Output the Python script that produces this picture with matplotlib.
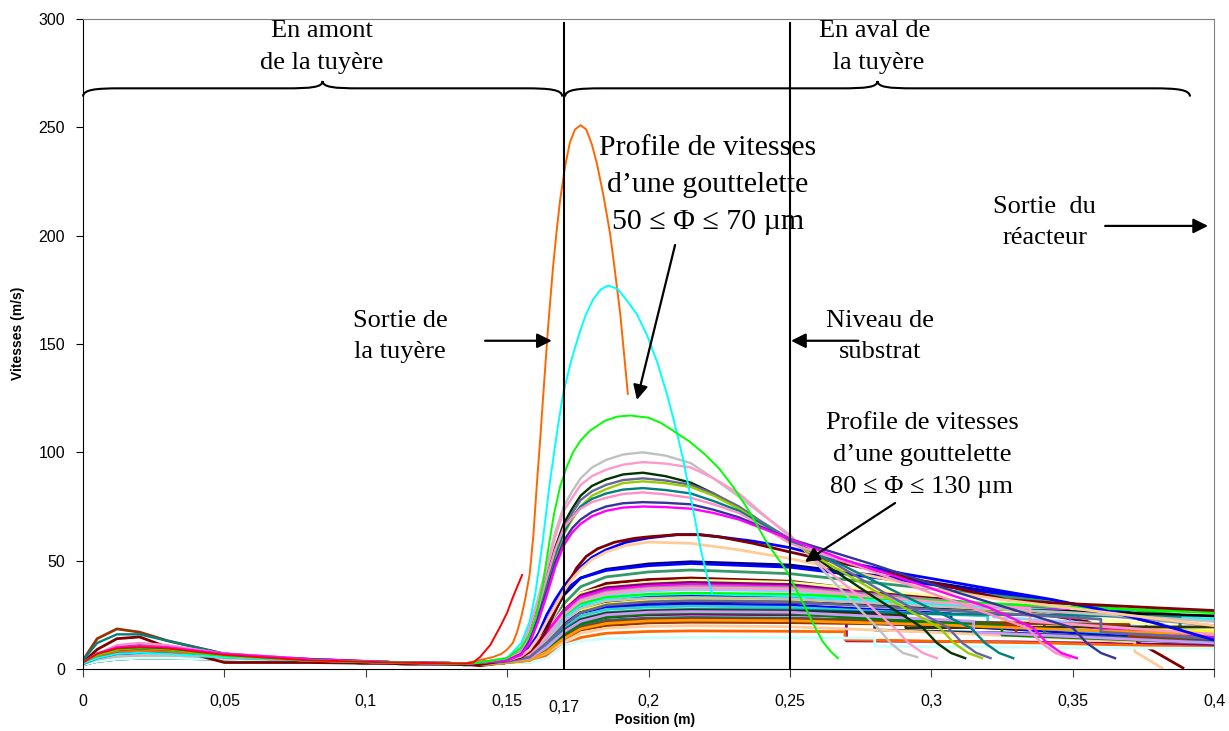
import matplotlib

matplotlib.use("Agg")
import matplotlib.pyplot as plt
from matplotlib.path import Path
from matplotlib.patches import PathPatch
from matplotlib.transforms import blended_transform_factory

# ---- data: position (m) -> droplet speed (m/s) ----
UP_X = [0, 0.005, 0.012, 0.02, 0.03, 0.05, 0.08, 0.11, 0.135]

# small droplets (fast, decelerate quickly)
FAST_PROFILES = [
    ("#FF6600", [3, 6, 8, 8.5, 8, 6, 4, 3, 2.5],
     [(0.14, 4), (0.145, 5.5), (0.148, 7), (0.15, 9), (0.152, 12), (0.1535, 17), (0.155, 24),
      (0.1565, 33), (0.158, 44), (0.1593, 62), (0.1605, 85), (0.1617, 106), (0.1627, 125),
      (0.1645, 158), (0.1662, 185), (0.1675, 202), (0.1687, 216), (0.1705, 232), (0.1722, 243),
      (0.174, 249), (0.176, 251), (0.178, 249), (0.18, 242), (0.1818, 233), (0.184, 219),
      (0.1864, 201), (0.188, 185), (0.19, 164), (0.1927, 127)]),
    ("#00FFFF", [2.5, 5, 7, 7.5, 7, 5.5, 4, 3, 2.5],
     [(0.14, 3), (0.15, 5), (0.155, 12), (0.158, 22), (0.16, 35), (0.1625, 58), (0.165, 85),
      (0.1675, 108), (0.1698, 127), (0.1728, 143), (0.1758, 156), (0.178, 164), (0.1804, 170.5),
      (0.183, 175), (0.1857, 177), (0.189, 175.5), (0.1924, 170), (0.196, 163.5), (0.1995, 154),
      (0.203, 142), (0.2065, 127), (0.2095, 112), (0.2122, 97), (0.2157, 74), (0.2185, 55),
      (0.2207, 43), (0.2225, 35)]),
    ("#00FF00", [3, 6.5, 9, 9.5, 9, 6, 4, 3, 2.5],
     [(0.14, 3), (0.15, 5), (0.155, 10), (0.158, 16), (0.16, 23), (0.1625, 38), (0.1645, 55),
      (0.1665, 71), (0.1687, 84), (0.171, 93), (0.1733, 100), (0.176, 105.5), (0.1793, 110),
      (0.1845, 114.5), (0.189, 116.5), (0.1935, 117), (0.2, 116), (0.2045, 113.5), (0.2087, 110),
      (0.2145, 105), (0.22, 99), (0.225, 92.5), (0.23, 84), (0.236, 72), (0.242, 58), (0.249, 45),
      (0.2525, 36), (0.256, 27), (0.259, 19), (0.2617, 12.5), (0.2645, 8), (0.267, 5)]),
    ("#FF0000", [3, 7, 9.5, 10, 9.5, 6.5, 4, 3, 2.5],
     [(0.138, 3), (0.1404, 5.5), (0.144, 11), (0.1475, 19.4), (0.15, 26),
      (0.152, 33), (0.1553, 43.4)]),
]

# medium droplets, peak 75-100 m/s, stopping between 0.29 and 0.37 m
MID_X = [0.14, 0.15, 0.155, 0.158, 0.161, 0.164, 0.167, 0.17, 0.173, 0.176, 0.18, 0.185,
         0.191, 0.198, 0.206, 0.215, 0.223, 0.232, 0.24, 0.25]
MID_PROFILES = [
    ("#C0C0C0", [2.5, 4.5, 6, 6.5, 6.5, 5.5, 4, 3, 2.5],
     [3, 5, 10, 20, 33, 48, 63, 75, 82, 88, 93, 96.5, 99, 100, 98.5, 95, 88, 79.5, 71.5, 62],
     [(0.26, 48), (0.27, 34), (0.281, 19), (0.286, 11.5), (0.29, 7.4), (0.295, 5.5)]),
    ("#FF99CC", [3, 6, 8.5, 9, 8.5, 6, 4, 3, 2.5],
     [3, 5, 9.5, 19, 31, 46, 61, 73, 79, 85, 89, 92, 94.3, 95.5, 94.8, 93, 88, 81, 72, 61],
     [(0.262, 47), (0.275, 33), (0.287, 19), (0.292, 12), (0.297, 7.4), (0.302, 5)]),
    ("#003300", [3, 6, 8, 9, 9, 6.5, 4, 3, 2.5],
     [3, 4.5, 8, 16, 28, 42, 56, 67, 74, 80, 84.5, 87.5, 89.8, 90.6, 89, 86, 81, 74, 67, 60],
     [(0.265, 46), (0.28, 33), (0.297, 19), (0.302, 12), (0.307, 7.4), (0.312, 5)]),
    ("#666699", [3, 7, 10, 11, 10, 6.5, 4, 3, 2.5],
     [3, 4.5, 8, 15, 27, 40, 54, 65, 72, 78, 82, 85, 87.2, 88, 87, 85, 81, 75, 68, 60],
     [(0.268, 47), (0.285, 34), (0.306, 19), (0.311, 12), (0.316, 7.4), (0.321, 5)]),
    ("#99CC00", [3, 6, 9, 10.5, 10, 7, 4, 3, 2.5],
     [3, 4, 7.5, 14, 25, 38, 51, 62, 69, 75, 80, 83, 85.8, 86.6, 85.8, 84, 80, 74, 67, 59],
     [(0.267, 46), (0.284, 33), (0.303, 19), (0.308, 12), (0.313, 7.4), (0.318, 5)]),
    ("#008080", [4, 12, 16, 16, 13, 7, 4, 3, 2.5],
     [3, 4, 7.5, 15, 27, 40, 53, 63, 70, 75, 78.5, 81, 82.8, 83.5, 82.6, 81, 77.5, 73, 67, 59],
     [(0.27, 47), (0.29, 34), (0.314, 19), (0.319, 12), (0.324, 7.4), (0.329, 5)]),
    ("#FF8FC8", [3, 7, 11, 12, 11, 7, 4, 3, 2.5],
     [3, 4.5, 8, 16, 28, 42, 55, 65, 70, 74, 77, 79, 80.8, 81.5, 80.6, 79, 76, 72, 66, 58],
     [(0.275, 47), (0.3, 35), (0.334, 19), (0.339, 12), (0.344, 7.4), (0.349, 5)]),
    ("#333399", [2.5, 5, 7, 7.5, 7.5, 6, 4, 3, 2.5],
     [3, 4, 7, 13, 24, 36, 49, 59, 65, 69, 72.5, 75, 76.5, 77, 76.7, 76, 73.5, 70, 65.5, 60],
     [(0.28, 48), (0.31, 35), (0.35, 19), (0.355, 12), (0.36, 7.4), (0.365, 5)]),
    ("#FF00FF", [3, 7, 10, 10.5, 10, 7, 4.5, 3, 2.5],
     [3, 4, 6.5, 12, 22, 34, 47, 57, 63, 67, 70.5, 73, 74.5, 75, 74.7, 74, 72, 69, 65, 60],
     [(0.268, 51), (0.288, 42.5), (0.305, 35), (0.32, 28.6), (0.336, 19), (0.341, 12),
      (0.346, 7.4), (0.3515, 5)]),
]

# large droplets, peak 45-62 m/s, reaching the reactor outlet
SLOW_PROFILES = [
    ("#0000FF", [2.5, 5, 6.5, 7, 7, 6, 4.5, 3, 2.5],
     [(0.14, 3), (0.15, 4), (0.155, 6.5), (0.158, 10), (0.161, 16), (0.164, 25), (0.167, 32),
      (0.17, 38), (0.173, 43), (0.176, 47), (0.18, 51.5), (0.185, 55), (0.192, 58.5), (0.2, 60.5),
      (0.21, 62), (0.218, 62), (0.225, 61), (0.237, 59), (0.25, 56), (0.262, 52), (0.275, 48),
      (0.29, 44), (0.3077, 40), (0.325, 36), (0.343, 32), (0.36, 27.5), (0.375, 22.6),
      (0.388, 18), (0.4, 13.4)]),
    ("#800000", [3, 9, 14, 14.8, 10, 3, 3, 2.5, 2],
     [(0.14, 2), (0.15, 4), (0.155, 5.5), (0.158, 8), (0.161, 12), (0.164, 18), (0.1675, 28),
      (0.171, 38), (0.1745, 46.5), (0.178, 52), (0.182, 55.5), (0.188, 58.5), (0.195, 60.3),
      (0.2, 61), (0.21, 62), (0.218, 62), (0.225, 61), (0.237, 58), (0.25, 54), (0.262, 50.5),
      (0.275, 47), (0.2995, 40), (0.3267, 32), (0.343, 30.5), (0.36, 29.5), (0.38, 28.2),
      (0.4, 27)]),
    ("#FFCC99", [2.5, 5, 7, 8, 8, 6, 4, 3, 2.5],
     [(0.14, 3), (0.15, 4), (0.155, 6), (0.158, 9), (0.161, 14.5), (0.164, 22), (0.167, 29),
      (0.17, 36), (0.173, 41.5), (0.176, 46), (0.18, 50.5), (0.185, 54), (0.192, 57), (0.2, 58.6),
      (0.215, 58), (0.232, 55), (0.25, 51), (0.275, 44), (0.3, 37), (0.325, 32), (0.35, 28),
      (0.375, 24), (0.4, 20)]),
]

# remaining droplets, plateau 15-50 m/s (some with sudden drops)
PLATEAU_PROFILES = [
    ("#000080", [2.5, 4.5, 6, 6.5, 6.5, 5.5, 4, 3, 2.5],
     [(0.14, 2.5), (0.15, 3.5), (0.158, 9), (0.164, 20), (0.17, 34), (0.176, 42), (0.185, 46),
      (0.2, 48.5), (0.215, 49.5), (0.25, 48), (0.3, 40), (0.35, 30), (0.38, 21), (0.4, 14)]),
    ("#0000FF", [3, 6, 8, 9, 8.5, 6, 4, 3, 2.5],
     [(0.14, 2.5), (0.15, 3.5), (0.158, 10), (0.164, 22), (0.17, 36), (0.176, 42), (0.185, 45.5),
      (0.2, 47.7), (0.215, 48.7), (0.25, 47), (0.3, 39), (0.35, 30), (0.376, 25), (0.376, 19),
      (0.4, 15)]),
    ("#339966", [3, 5.5, 7.5, 8, 8, 6, 4, 3, 2.5],
     [(0.14, 2.5), (0.15, 3.5), (0.158, 7), (0.164, 16), (0.17, 30), (0.176, 38), (0.185, 42.5),
      (0.2, 44.8), (0.215, 45.7), (0.25, 44), (0.3, 37), (0.35, 30), (0.388, 25), (0.388, 14),
      (0.4, 13.5)]),
    ("#800000", [2.5, 5, 6.5, 7, 7, 5.5, 4, 3, 2.5],
     [(0.14, 1.5), (0.15, 3), (0.158, 5), (0.164, 12), (0.17, 26), (0.176, 35), (0.185, 39.5),
      (0.2, 41.3), (0.215, 42), (0.25, 40.5), (0.3, 33), (0.355, 22), (0.375, 11), (0.389, 0.5)]),
    ("#FFFF99", [3, 7, 10, 11, 10.5, 7, 4, 3, 2.5],
     [(0.14, 2.5), (0.15, 3.5), (0.158, 8), (0.164, 17), (0.17, 28), (0.176, 35), (0.185, 38),
      (0.2, 40), (0.215, 41), (0.25, 40), (0.3, 34), (0.307, 33.5), (0.307, 28), (0.35, 24),
      (0.4, 18)]),
    ("#800080", [3, 6, 8, 9, 9, 6.5, 4, 3, 2.5],
     [(0.14, 2.5), (0.15, 3.5), (0.158, 7), (0.164, 16), (0.17, 27), (0.176, 34), (0.185, 37.5),
      (0.2, 39.2), (0.215, 40), (0.25, 39), (0.3, 32), (0.352, 25), (0.352, 20), (0.4, 13)]),
    ("#FF00FF", [3, 6.5, 9.5, 10, 9.5, 7, 4.5, 3, 2.5],
     [(0.14, 2.5), (0.15, 3.5), (0.158, 8), (0.164, 17), (0.17, 27), (0.176, 33), (0.185, 36.5),
      (0.2, 38.2), (0.215, 39), (0.25, 38), (0.3, 32), (0.349, 27), (0.349, 20), (0.4, 15)]),
    ("#969696", [2.5, 4.5, 6, 6.5, 6.5, 5, 4, 3, 2.5],
     [(0.14, 2.5), (0.15, 3.5), (0.158, 6), (0.164, 14), (0.17, 25), (0.176, 32), (0.185, 35.5),
      (0.2, 37.4), (0.215, 38.2), (0.25, 37.5), (0.3, 32), (0.35, 26), (0.4, 20)]),
    ("#99CCFF", [2.5, 5, 7, 7.5, 7.5, 5.5, 4, 3, 2.5],
     [(0.14, 2.5), (0.15, 3.5), (0.158, 6), (0.164, 13), (0.17, 24), (0.176, 30), (0.185, 34),
      (0.2, 36), (0.215, 36.7), (0.25, 36), (0.3, 31), (0.322, 29), (0.322, 24), (0.37, 20),
      (0.4, 17)]),
    ("#00FF00", [2.5, 5, 6.5, 7, 7, 5.5, 4, 3, 2.5],
     [(0.14, 2.5), (0.15, 3.5), (0.158, 7), (0.164, 15), (0.17, 24), (0.176, 30), (0.185, 33),
      (0.2, 34.5), (0.215, 35), (0.25, 34.5), (0.3, 31.5), (0.35, 28.5), (0.4, 26)]),
    ("#00FFFF", [2.5, 4.5, 6, 6.5, 6.5, 5.5, 4, 3, 2.5],
     [(0.14, 2.5), (0.15, 3.5), (0.158, 6), (0.164, 14), (0.17, 23), (0.176, 29), (0.185, 32),
      (0.2, 33.5), (0.215, 34), (0.25, 33.5), (0.3, 30), (0.35, 26.5), (0.4, 23)]),
    ("#000080", [2, 4, 5, 5.5, 5.5, 5, 3.5, 2.5, 2],
     [(0.14, 2), (0.15, 3), (0.158, 5), (0.164, 11), (0.17, 21), (0.176, 28), (0.185, 31),
      (0.2, 33), (0.215, 33.5), (0.25, 32.5), (0.279, 30), (0.279, 21), (0.32, 19), (0.37, 16),
      (0.4, 14)]),
    ("#FFFF00", [3, 6.5, 9, 10, 9.5, 6.5, 4, 3, 2.5],
     [(0.14, 2.5), (0.15, 3.5), (0.158, 6), (0.164, 12), (0.17, 21), (0.176, 27), (0.185, 30),
      (0.2, 31.5), (0.215, 32), (0.25, 31.5), (0.3, 28.5), (0.325, 27), (0.325, 22), (0.4, 17)]),
    ("#000000", [2.5, 4.5, 5.5, 6, 6, 5, 4, 3, 2.5],
     [(0.14, 2.5), (0.15, 3.5), (0.158, 5), (0.164, 11), (0.17, 20), (0.176, 26), (0.185, 29),
      (0.2, 30.7), (0.215, 31.2), (0.25, 30.8), (0.3, 28.5), (0.35, 26.5), (0.4, 24.5)]),
    ("#0000FF", [2, 4, 5, 5.5, 5.5, 5, 3.5, 2.5, 2],
     [(0.14, 2.5), (0.15, 3.5), (0.158, 6), (0.164, 13), (0.17, 21), (0.176, 26), (0.185, 28.5),
      (0.2, 29.6), (0.215, 30), (0.25, 29.5), (0.3, 26), (0.307, 25.5), (0.307, 20), (0.36, 16),
      (0.4, 13)]),
    ("#33CCCC", [2.5, 4.5, 6, 6.5, 6.5, 5.5, 4, 3, 2.5],
     [(0.14, 2.5), (0.15, 3.5), (0.158, 5), (0.164, 11), (0.17, 19), (0.176, 24.5), (0.185, 27.5),
      (0.2, 28.6), (0.215, 29), (0.25, 28.5), (0.3, 25.5), (0.32, 24.5), (0.32, 20), (0.4, 14)]),
    ("#008080", [2, 4, 5.5, 6, 6, 5, 3.5, 2.5, 2],
     [(0.14, 2), (0.15, 3), (0.158, 5), (0.164, 10), (0.17, 18), (0.176, 23), (0.185, 26),
      (0.2, 27.1), (0.215, 27.5), (0.25, 27.3), (0.3, 25.5), (0.35, 24.8), (0.388, 24),
      (0.388, 14), (0.4, 13)]),
    ("#003366", [2, 3.5, 4.5, 5, 5, 4.5, 3.5, 2.5, 2],
     [(0.14, 2), (0.15, 3), (0.158, 4.5), (0.164, 9), (0.17, 17), (0.176, 22.5), (0.185, 25.5),
      (0.2, 26.6), (0.215, 27), (0.25, 26.7), (0.28, 26), (0.28, 18), (0.33, 16.5), (0.4, 13)]),
    ("#800080", [2.5, 4.5, 6, 6.5, 6, 5, 3.5, 2.5, 2],
     [(0.14, 2), (0.15, 3), (0.158, 4), (0.164, 9), (0.17, 16), (0.176, 21), (0.185, 23.8),
      (0.2, 25), (0.215, 25.3), (0.25, 25), (0.27, 24.5), (0.27, 13), (0.33, 12.5), (0.4, 11)]),
    ("#336666", [2, 3.5, 4.5, 5, 5, 4.5, 3.5, 2.5, 2],
     [(0.14, 2), (0.15, 3), (0.158, 4), (0.164, 8), (0.17, 15), (0.176, 20), (0.185, 22.5),
      (0.2, 23.5), (0.215, 23.8), (0.25, 23.5), (0.3, 22), (0.34, 21), (0.34, 16), (0.4, 12.5)]),
    ("#993300", [2.5, 5, 6.5, 7, 7, 5.5, 4, 3, 2.5],
     [(0.14, 2), (0.15, 3), (0.158, 4), (0.164, 8), (0.17, 14.5), (0.176, 19), (0.185, 21.5),
      (0.2, 22.7), (0.215, 23), (0.25, 22.8), (0.3, 21.5), (0.37, 20.5), (0.37, 15), (0.4, 14)]),
    ("#333300", [2, 4, 5, 5.5, 5.5, 4.5, 3.5, 2.5, 2],
     [(0.14, 2), (0.15, 3), (0.158, 4.5), (0.164, 9), (0.17, 17), (0.176, 22.5), (0.185, 25.5),
      (0.2, 26.6), (0.215, 27), (0.25, 26.5), (0.291, 24.6), (0.291, 19), (0.35, 19.4),
      (0.4, 19.4)]),
    ("#993300", [4, 14, 18.5, 17, 13, 7, 4, 3, 2.5],
     [(0.14, 2), (0.15, 3), (0.158, 3.5), (0.164, 7), (0.17, 13.5), (0.176, 18), (0.185, 20),
      (0.2, 21.3), (0.215, 21.6), (0.25, 21.4), (0.3, 20.5), (0.33, 20), (0.33, 15.5), (0.4, 12)]),
    ("#FFCC99", [2, 4, 5, 5.5, 5.5, 5, 3.5, 2.5, 2],
     [(0.14, 2), (0.15, 3), (0.158, 3.5), (0.164, 7), (0.17, 12.5), (0.176, 16.5), (0.185, 18.8),
      (0.2, 19.7), (0.215, 20), (0.25, 19.5), (0.3, 17), (0.35, 14), (0.372, 12.5), (0.372, 8),
      (0.3816, 0.5)]),
    ("#FF6600", [2.5, 4.5, 6, 6.5, 6.5, 5.5, 4, 3, 2.5],
     [(0.14, 2), (0.15, 3), (0.158, 3), (0.164, 6), (0.17, 11), (0.176, 14.5), (0.185, 16.5),
      (0.2, 17.3), (0.215, 17.6), (0.25, 17.4), (0.2695, 17.2), (0.2695, 13.5), (0.34, 12),
      (0.4, 10)]),
    ("#CCFFFF", [2, 3.5, 4.5, 5, 5, 4.5, 3.5, 2.5, 2],
     [(0.14, 2), (0.15, 3), (0.158, 3), (0.164, 5), (0.17, 11), (0.176, 13), (0.185, 14),
      (0.2, 14.4), (0.215, 14.6), (0.25, 14.5), (0.28, 14.2), (0.28, 10.5), (0.4, 9.5)]),
    ("#008000", [2.5, 5, 6.5, 7, 7, 5.5, 4, 3, 2.5],
     [(0.14, 2), (0.15, 3), (0.158, 4), (0.164, 9), (0.17, 16), (0.176, 21), (0.185, 24),
      (0.2, 25.5), (0.215, 26), (0.25, 25.6), (0.3, 21.5), (0.325, 20.3), (0.325, 15.7),
      (0.4, 12)]),
    ("#FF9900", [2.5, 5.5, 7.5, 8, 8, 6, 4, 3, 2.5],
     [(0.14, 2), (0.15, 3), (0.158, 4), (0.164, 8), (0.17, 14), (0.176, 18.5), (0.185, 21),
      (0.2, 22.2), (0.215, 22.5), (0.25, 22.3), (0.3, 20.5), (0.35, 18), (0.4, 16)]),
    ("#CC99FF", [3, 5.5, 7.5, 8.5, 8.5, 6.5, 4, 3, 2.5],
     [(0.14, 2.5), (0.15, 3.5), (0.158, 5), (0.164, 10), (0.17, 17), (0.176, 22), (0.185, 25),
      (0.2, 26.2), (0.215, 26.5), (0.25, 26.2), (0.3, 23), (0.315, 22), (0.315, 17), (0.4, 12)]),
    ("#C0C0C0", [2.5, 4.5, 6, 6.5, 6.5, 5, 4, 3, 2.5],
     [(0.14, 2.5), (0.15, 3.5), (0.158, 6), (0.164, 13), (0.17, 22), (0.176, 28), (0.185, 31.5),
      (0.2, 32.7), (0.215, 33), (0.25, 32.5), (0.3, 29), (0.35, 26), (0.4, 22)]),
    ("#FF99CC", [3, 7, 10, 11, 10.5, 7, 4.5, 3, 2.5],
     [(0.14, 2.5), (0.15, 3.5), (0.158, 7), (0.164, 15), (0.17, 25), (0.176, 31.5), (0.185, 35),
      (0.2, 37), (0.215, 37.5), (0.25, 37), (0.3, 31), (0.335, 28), (0.335, 22), (0.4, 16)]),
    ("#666699", [2.5, 5, 6.5, 7, 7, 5.5, 4, 3, 2.5],
     [(0.14, 2.5), (0.15, 3.5), (0.158, 5.5), (0.164, 12), (0.17, 20), (0.176, 26), (0.185, 29.5),
      (0.2, 31), (0.215, 31.5), (0.25, 31), (0.3, 27.5), (0.36, 23), (0.36, 17), (0.4, 14)]),
]

X_TICKS = [0, 0.05, 0.1, 0.15, 0.2, 0.25, 0.3, 0.35, 0.4]
X_TICK_LABELS = ["0", "0,05", "0,1", "0,15", "0,2", "0,25", "0,3", "0,35", "0,4"]
Y_TICKS = [0, 50, 100, 150, 200, 250, 300]
NOZZLE_EXIT = 0.17
SUBSTRATE = 0.25

SERIF = "Liberation Serif"
SANS = "Liberation Sans"


def draw_brace(ax, x0, x1, y, tip=3.8, cusp=3.4, r=0.013):
    xc = (x0 + x1) / 2
    verts = [
        (x0, y - tip), (x0, y - tip * 0.15), (x0 + r * 0.35, y), (x0 + r, y),
        (xc - r, y),
        (xc - r * 0.3, y), (xc, y + cusp * 0.15), (xc, y + cusp),
        (xc, y + cusp * 0.15), (xc + r * 0.3, y), (xc + r, y),
        (x1 - r, y),
        (x1 - r * 0.35, y), (x1, y - tip * 0.15), (x1, y - tip),
    ]
    codes = ([Path.MOVETO] + [Path.CURVE4] * 3 + [Path.LINETO] + [Path.CURVE4] * 6
             + [Path.LINETO] + [Path.CURVE4] * 3)
    ax.add_patch(PathPatch(Path(verts, codes), facecolor="none", edgecolor="black",
                           lw=1.5, clip_on=False, zorder=6))


def plot_group(ax, profiles, lw):
    for colour, up, down in profiles:
        xs = UP_X + [p[0] for p in down]
        vs = up + [p[1] for p in down]
        ax.plot(xs, vs, color=colour, lw=lw, solid_joinstyle="round")


fig = plt.figure(figsize=(12.29, 7.31), dpi=100)
fig.patch.set_facecolor("white")
ax = fig.add_axes([83 / 1229, 62 / 731, 1131 / 1229, 650 / 731])

plot_group(ax, PLATEAU_PROFILES, 2.0)
plot_group(ax, SLOW_PROFILES, 2.0)
for colour, up, rise, tail in MID_PROFILES:
    xs = UP_X + MID_X + [p[0] for p in tail]
    vs = up + rise + [p[1] for p in tail]
    ax.plot(xs, vs, color=colour, lw=1.7, solid_joinstyle="round")
plot_group(ax, FAST_PROFILES, 1.4)

ax.set_xlim(0, 0.4)
ax.set_ylim(0, 300)
ax.set_xticks(X_TICKS)
ax.set_xticklabels(X_TICK_LABELS)
ax.set_yticks(Y_TICKS)
for lab in ax.get_xticklabels() + ax.get_yticklabels():
    lab.set_fontfamily(SANS)
    lab.set_fontsize(11.5)
ax.tick_params(axis="x", direction="out", length=6, pad=12, color="#404040")
ax.tick_params(axis="y", direction="out", length=5, pad=8)
for side in ("top", "right"):
    ax.spines[side].set_color("#808080")
for side in ("left", "bottom"):
    ax.spines[side].set_color("black")

# extra tick label for the nozzle exit
trans = blended_transform_factory(ax.transData, ax.transAxes)
ax.annotate("0,17", xy=(NOZZLE_EXIT, 0), xycoords=trans, xytext=(0, -28),
            textcoords="offset points", ha="center", va="center",
            fontsize=11.5, family=SANS)

# nozzle exit and substrate levels
ax.plot([NOZZLE_EXIT, NOZZLE_EXIT], [0, 298], color="black", lw=1.5, zorder=5)
ax.plot([SUBSTRATE, SUBSTRATE], [0, 298], color="black", lw=1.5, zorder=5)

# braces and zone names
draw_brace(ax, 0.0, 0.1695, 268)
draw_brace(ax, 0.1705, 0.3915, 268)
ax.text(0.0845, 287, "En amont\nde la tuyère", ha="center", va="center",
        family=SERIF, fontsize=19, linespacing=1.6)
ax.text(0.2801, 287, "En aval de\n la tuyère", ha="center", va="center",
        family=SERIF, fontsize=19, linespacing=1.6)

arrow = dict(arrowstyle="-|>", color="black", lw=1.6, mutation_scale=22,
             shrinkA=0, shrinkB=0)
ax.text(0.1121, 153.5, "Sortie de\nla tuyère", ha="center", va="center",
        family=SERIF, fontsize=19, linespacing=1.55)
ax.annotate("", xy=(0.1658, 151.5), xytext=(0.1422, 151.5), arrowprops=arrow, zorder=7)

ax.text(0.2819, 153.5, "Niveau de\nsubstrat", ha="center", va="center",
        family=SERIF, fontsize=19, linespacing=1.55)
ax.annotate("", xy=(0.2504, 151.5), xytext=(0.2742, 151.5), arrowprops=arrow, zorder=7)

ax.text(0.3402, 206, "Sortie  du\nréacteur", ha="center", va="center",
        family=SERIF, fontsize=19, linespacing=1.55)
ax.annotate("", xy=(0.3979, 204.5), xytext=(0.3615, 204.5), arrowprops=arrow, zorder=7)

ax.text(0.221, 223.5, "Profile de vitesses\nd\u2019une gouttelette\n50 \u2264 \u03a6 \u2264 70 \u00b5m",
        ha="center", va="center", family=SERIF, fontsize=21.5, linespacing=1.55)
ax.annotate("", xy=(0.1959, 124.2), xytext=(0.2094, 195.7), arrowprops=arrow, zorder=7)

ax.text(0.2967, 98.8, "Profile de vitesses\nd\u2019une gouttelette\n80 \u2264 \u03a6 \u2264 130 \u00b5m",
        ha="center", va="center", family=SERIF, fontsize=19, linespacing=1.6)
ax.annotate("", xy=(0.2553, 49.4), xytext=(0.2872, 76.6), arrowprops=arrow, zorder=7)

fig.text(18 / 1229, 1 - 333 / 731, "Vitesses (m/s)", rotation=90, ha="center",
         va="center", family=SANS, fontsize=10, fontweight="bold")
fig.text(655 / 1229, 1 - 720 / 731, "Position (m)", ha="center", va="center",
         family=SANS, fontsize=10, fontweight="bold")

fig.savefig("out.png", dpi=100, facecolor="white")
